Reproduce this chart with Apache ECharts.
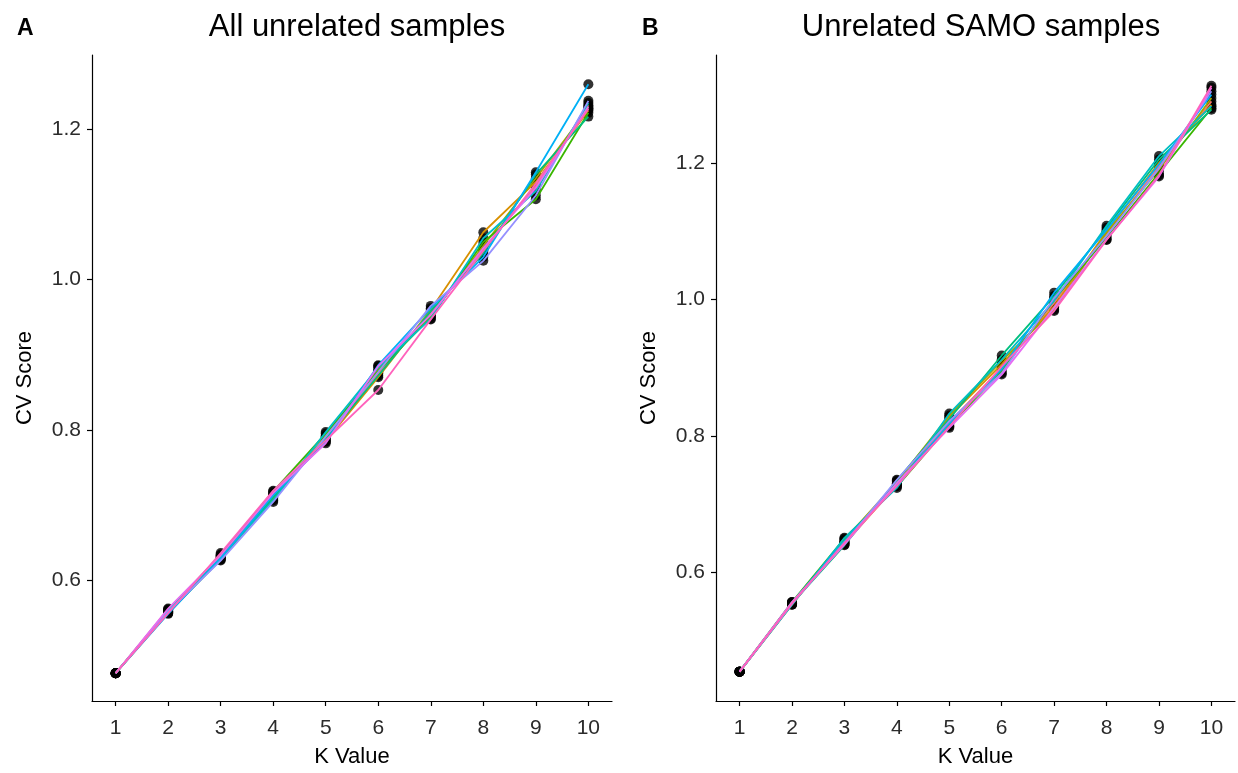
<!DOCTYPE html>
<html>
<head>
<meta charset="utf-8">
<script src="https://cdn.jsdelivr.net/npm/echarts@6/dist/echarts.min.js"></script>
<style>
html,body{margin:0;padding:0;background:#fff;}
#chart{width:1238px;height:773px;}
</style>
</head>
<body>
<div id="chart"></div>
<script>
const kValues = [1,2,3,4,5,6,7,8,9,10];
const yTicksA = [0.6,0.8,1.0,1.2];
const yTicksB = [0.6,0.8,1.0,1.2];
const runColors = ["#F8766D","#D89000","#A3A500","#39B600","#00BF7D","#00BFC4","#00B0F6","#9590FF","#E76BF3","#FF62BC"];

// Panel A: All unrelated samples (10 runs)
const a_run1  = [0.476,0.558,0.630,0.712,0.790,0.875,0.955,1.040,1.125,1.232];
const a_run2  = [0.476,0.561,0.632,0.715,0.785,0.870,0.960,1.063,1.130,1.225];
const a_run3  = [0.476,0.556,0.628,0.708,0.792,0.880,0.952,1.045,1.135,1.228];
const a_run4  = [0.476,0.559,0.634,0.718,0.795,0.878,0.950,1.050,1.107,1.222];
const a_run5  = [0.476,0.557,0.627,0.710,0.788,0.872,0.958,1.035,1.140,1.217];
const a_run6  = [0.476,0.560,0.631,0.706,0.797,0.883,0.948,1.055,1.118,1.235];
const a_run7  = [0.476,0.555,0.629,0.713,0.784,0.886,0.962,1.030,1.143,1.260];
const a_run8  = [0.476,0.558,0.626,0.704,0.791,0.877,0.965,1.025,1.112,1.238];
const a_run9  = [0.476,0.562,0.633,0.716,0.782,0.885,0.953,1.042,1.122,1.230];
const a_run10 = [0.476,0.556,0.636,0.719,0.786,0.853,0.947,1.038,1.128,1.227];

// Panel B: Unrelated SAMO samples (10 runs)
const b_run1  = [0.455,0.554,0.645,0.730,0.820,0.900,0.995,1.095,1.195,1.290];
const b_run2  = [0.455,0.556,0.642,0.728,0.828,0.905,0.990,1.100,1.200,1.285];
const b_run3  = [0.455,0.553,0.648,0.733,0.830,0.910,0.985,1.098,1.190,1.295];
const b_run4  = [0.455,0.557,0.650,0.726,0.815,0.895,1.000,1.090,1.185,1.280];
const b_run5  = [0.455,0.555,0.640,0.735,0.825,0.918,1.005,1.105,1.205,1.278];
const b_run6  = [0.455,0.553,0.651,0.724,0.833,0.912,0.998,1.108,1.210,1.283];
const b_run7  = [0.455,0.556,0.646,0.729,0.818,0.898,1.010,1.102,1.198,1.300];
const b_run8  = [0.455,0.554,0.643,0.736,0.822,0.892,1.002,1.093,1.192,1.305];
const b_run9  = [0.455,0.557,0.641,0.731,0.812,0.890,0.988,1.088,1.180,1.310];
const b_run10 = [0.455,0.555,0.644,0.727,0.814,0.902,0.983,1.087,1.182,1.313];

const runsA = [a_run1,a_run2,a_run3,a_run4,a_run5,a_run6,a_run7,a_run8,a_run9,a_run10];
const runsB = [b_run1,b_run2,b_run3,b_run4,b_run5,b_run6,b_run7,b_run8,b_run9,b_run10];

const FONT = '"Liberation Sans", Arial, sans-serif';
const TXT = '#2b2b2b';
const X_MIN = 0.55, X_MAX = 10.45;
const rangeA = [0.439, 1.299];
const rangeB = [0.412, 1.358];

function xAxisDef(gi){
  return {
    type:'value', gridIndex:gi, min:X_MIN, max:X_MAX,
    name:'K Value', nameLocation:'middle', nameGap:45,
    nameTextStyle:{fontSize:22, color:'#000', fontFamily:FONT},
    axisLine:{lineStyle:{color:'#000', width:1.2}},
    axisTick:{show:true, inside:false, length:5, lineStyle:{color:'#000', width:1.2}, customValues:kValues},
    axisLabel:{fontSize:21, color:TXT, fontFamily:FONT, margin:17, customValues:kValues,
      formatter:v=>String(Math.round(v))},
    splitLine:{show:false}
  };
}
function yAxisDef(gi, range, ticks){
  return {
    type:'value', gridIndex:gi, min:range[0], max:range[1],
    name:'CV Score', nameLocation:'middle', nameGap:56, nameRotate:90,
    nameTextStyle:{fontSize:22, color:'#000', fontFamily:FONT},
    axisLine:{show:true, lineStyle:{color:'#000', width:1.2}},
    axisTick:{show:true, inside:false, length:5, lineStyle:{color:'#000', width:1.2}, customValues:ticks},
    axisLabel:{fontSize:21, color:TXT, fontFamily:FONT, margin:11, customValues:ticks,
      formatter:v=>v.toFixed(1)},
    splitLine:{show:false}
  };
}

const series = [];
function addPanel(runs, gi){
  const pts = [];
  runs.forEach(r=>r.forEach((v,i)=>pts.push([kValues[i], v])));
  series.push({type:'scatter', xAxisIndex:gi, yAxisIndex:gi, data:pts, symbol:'circle', symbolSize:10,
    itemStyle:{color:'#000'}, z:1, silent:true});
  runs.forEach((r,ri)=>{
    series.push({type:'line', xAxisIndex:gi, yAxisIndex:gi, data:r.map((v,i)=>[kValues[i], v]),
      showSymbol:false, lineStyle:{color:runColors[ri], width:1.8}, itemStyle:{color:runColors[ri]},
      z:2, silent:true, animation:false});
  });
}
addPanel(runsA, 0);
addPanel(runsB, 1);

const chart = echarts.init(document.getElementById('chart'), null, {renderer:'canvas'});
chart.setOption({
  animation:false,
  backgroundColor:'#fff',
  title:[
    {text:'All unrelated samples', left:352, top:7, textAlign:'center',
      textStyle:{fontSize:31, fontWeight:'normal', color:'#000', fontFamily:FONT}},
    {text:'Unrelated SAMO samples', left:976, top:7, textAlign:'center',
      textStyle:{fontSize:31, fontWeight:'normal', color:'#000', fontFamily:FONT}},
    {text:'A', left:12, top:12, textStyle:{fontSize:23, fontWeight:'bold', color:'#000', fontFamily:FONT}},
    {text:'B', left:637, top:12, textStyle:{fontSize:23, fontWeight:'bold', color:'#000', fontFamily:FONT}}
  ],
  grid:[
    {left:92, top:55, width:520, height:646},
    {left:716, top:55, width:519, height:646}
  ],
  xAxis:[xAxisDef(0), xAxisDef(1)],
  yAxis:[yAxisDef(0,rangeA,yTicksA), yAxisDef(1,rangeB,yTicksB)],
  series:series
});
</script>
</body>
</html>
